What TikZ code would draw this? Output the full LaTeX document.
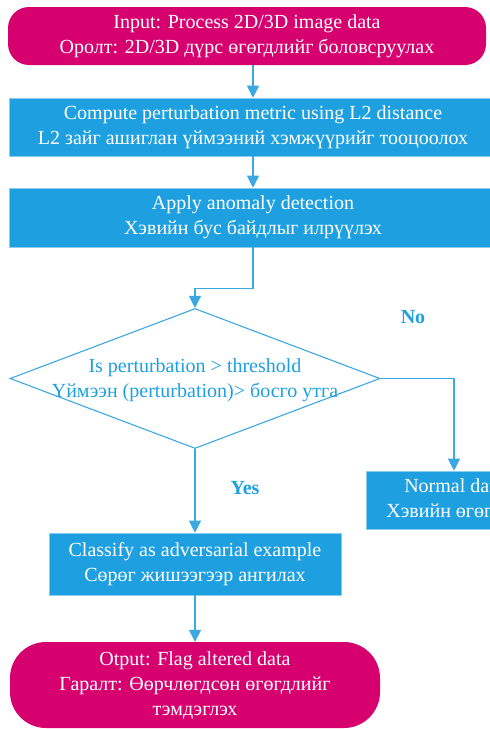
\documentclass[tikz,border=0pt]{standalone}
\usepackage{fontspec}
\setmainfont{Liberation Serif}
\usetikzlibrary{arrows.meta,positioning,calc,shapes.geometric}
\definecolor{termpink}{RGB}{214,0,111}
\definecolor{procblue}{RGB}{30,160,224}
\definecolor{flowblue}{RGB}{60,168,226}
\tikzset{>={Triangle[width=12pt,length=12pt]}, flow/.style={draw=flowblue, line width=1.1pt},
term/.style={fill=termpink, text=white, align=center, inner sep=0pt, font=\fontsize{20}{25}\selectfont},
proc/.style={fill=procblue, draw=flowblue!60, line width=0.6pt, text=white, align=center, inner sep=0pt, font=\fontsize{20}{25}\selectfont},
decision/.style={diamond, draw=flowblue, line width=1.1pt, inner sep=0pt, minimum width=370pt, minimum height=140pt},
note/.style={text=procblue, font=\fontsize{20}{25}\selectfont\bfseries}}

\begin{document}
\begin{tikzpicture}[x=1pt,y=-1pt]
\useasboundingbox (0,0) rectangle (490,729);
\clip (0,0) rectangle (490,729);
% Terminals and steps
\node[term, rounded corners=21pt, minimum width=478pt, minimum height=58pt] (start) at (247,36)
  {Input: Process 2D/3D image data\\Оролт: 2D/3D дүрс өгөгдлийг боловсруулах};
\node[proc, minimum width=488pt, minimum height=58pt] (metric) at (253,127)
  {Compute perturbation metric using L2 distance\\L2 зайг ашиглан үймээний хэмжүүрийг тооцоолох};
\node[proc, minimum width=488pt, minimum height=59pt] (anomaly) at (253,217.5)
  {Apply anomaly detection\\Хэвийн бус байдлыг илрүүлэх};
% Decision
\node[decision] (check) at (195,378.5) {};
\node[text=procblue, align=center, font=\fontsize{20}{25}\selectfont] (checktxt) at (195,380)
  {Is perturbation > threshold\\Үймээн (perturbation)> босго утга};
\node[proc, minimum width=176pt, minimum height=58pt] (normal) at (454,500)
  {Normal data\\Хэвийн өгөгдөл};
\node[proc, minimum width=292pt, minimum height=62pt] (classify) at (195,564)
  {Classify as adversarial example\\Сөрөг жишээгээр ангилах};
\node[term, rounded corners=36pt, minimum width=370pt, minimum height=86pt] (flag) at (195,685)
  {Otput: Flag altered data\\Гаралт: Өөрчлөгдсөн өгөгдлийг\\тэмдэглэх};
% Labels
\node[note] (no) at (413,317) {No};
\node[note] (yes) at (245,488) {Yes};
% Connectors
\draw[flow,->] (metric.north |- start.south) -- (metric.north);
\draw[flow,->] (metric) -- (anomaly);
\draw[flow,->] (anomaly.south) -- ++(0,41) -| (check.north);
\draw[flow,->] (check.east) -| (normal.north);
\draw[flow,->] (check.south) -- (classify.north);
\draw[flow,->] (classify) -- (flag);
\end{tikzpicture}
\end{document}
